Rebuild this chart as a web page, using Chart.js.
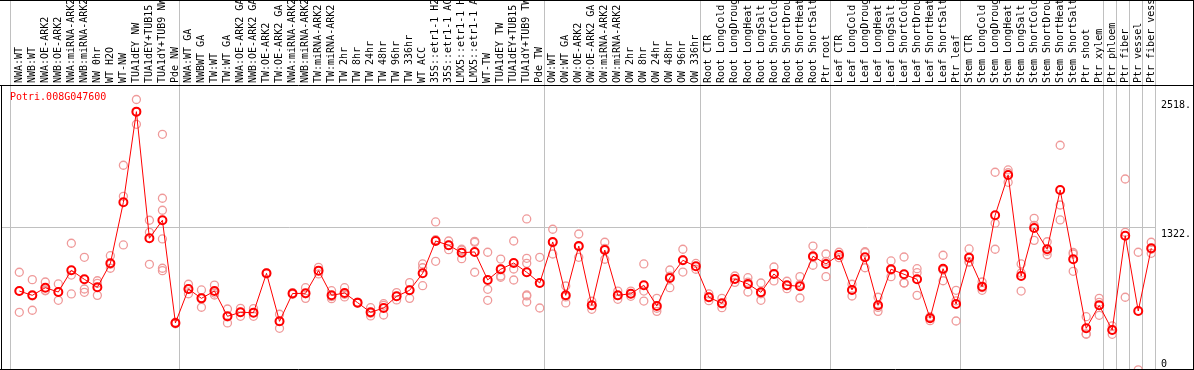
<!DOCTYPE html>
<html>
<head>
<meta charset="utf-8">
<script src="https://cdn.jsdelivr.net/npm/chart.js@4.4.1/dist/chart.umd.min.js"></script>
<style>
  html, body { margin: 0; padding: 0; background: #fff; }
  #wrap { width: 1194px; height: 370px; }
</style>
</head>
<body>
<div id="wrap"><canvas id="exprChart" width="1194" height="370"></canvas></div>
<script>
const geneName = 'Potri.008G047600';

const categories = [
    'NWA:WT', 'NWB:WT', 'NWA:OE-ARK2', 'NWB:OE-ARK2', 'NWA:miRNA-ARK2', 'NWB:miRNA-ARK2',
    'NW 0hr', 'WT H2O', 'WT-NW', 'TUA1dEY NW', 'TUA1dEY+TUB15', 'TUA1dY+TUB9 NW', 'Pde NW',
    'NWA:WT GA', 'NWBWT GA', 'TW:WT', 'TW:WT GA', 'NWA:OE-ARK2 GA', 'NWB:OE-ARK2 GA',
    'TW:OE-ARK2', 'TW:OE-ARK2 GA', 'NWA:miRNA-ARK2', 'NWB:miRNA-ARK2', 'TW:miRNA-ARK2',
    'TW:miRNA-ARK2', 'TW 2hr', 'TW 8hr', 'TW 24hr', 'TW 48hr', 'TW 96hr', 'TW 336hr', 'WT ACC',
    '35S::etr1-1 H2O', '35S::etr1-1 ACC', 'LMX5::etr1-1 H2O', 'LMX5::etr1-1 ACC', 'WT-TW',
    'TUA1dEY TW', 'TUA1dEY+TUB15', 'TUA1dY+TUB9 TW', 'Pde TW',
    'OW:WT', 'OW:WT GA', 'OW:OE-ARK2', 'OW:OE-ARK2 GA', 'OW:miRNA-ARK2', 'OW:miRNA-ARK2',
    'OW 2hr', 'OW 8hr', 'OW 24hr', 'OW 48hr', 'OW 96hr', 'OW 336hr',
    'Root CTR', 'Root LongCold', 'Root LongDrought', 'Root LongHeat', 'Root LongSalt',
    'Root ShortCold', 'Root ShortDrought', 'Root ShortHeat', 'Root ShortSalt', 'Ptr root',
    'Leaf CTR', 'Leaf LongCold', 'Leaf LongDrought', 'Leaf LongHeat', 'Leaf LongSalt',
    'Leaf ShortCold', 'Leaf ShortDrought', 'Leaf ShortHeat', 'Leaf ShortSalt', 'Ptr leaf',
    'Stem CTR', 'Stem LongCold', 'Stem LongDrought', 'Stem LongHeat', 'Stem LongSalt',
    'Stem ShortCold', 'Stem ShortDrought', 'Stem ShortHeat', 'Stem ShortSalt', 'Ptr shoot',
    'Ptr xylem', 'Ptr phloem', 'Ptr fiber', 'Ptr vessel', 'Ptr fiber vessel'
];

// index of the first sample of each group (last entry closes the final group)
const groupStarts = [0, 13, 41, 53, 63, 73, 84, 85, 86, 87, 88];

const meanValues = [
    735, 695, 766, 726, 928, 844, 770, 993, 1561, 2405, 1226, 1394, 438,
    754, 667, 735, 500, 537, 534, 900, 453, 712, 714, 925, 695, 717, 627, 537, 577, 686,
    742, 900, 1201, 1161, 1092, 1099, 838, 938, 996, 910, 810,
    1192, 695, 1154, 602, 1117, 695, 710, 789, 596, 857, 1021, 965,
    677, 621, 847, 801, 723, 894, 789, 779, 1059, 987,
    1071, 745, 1049, 602, 938, 891, 844, 481, 943, 614,
    1046, 776, 1440, 1815, 875, 1322, 1124, 1676, 1031, 388, 602,
    372, 1250, 549, 1133
];

const replicateValues = [
    [910, 735, 537], [841, 690, 556], [819, 742, 737], [801, 726, 649],
    [1180, 884, 708], [1049, 754, 723], [831, 807, 695], [1064, 947, 984],
    [1906, 1617, 1164], [2518, 2287, 2400], [1394, 1282, 984],
    [2194, 1599, 1487, 1220, 947, 925], [445, 438, 430],
    [798, 754, 710], [745, 672, 584], [791, 716, 698], [568, 494, 438],
    [574, 537, 500], [571, 534, 500], [905, 895], [519, 452, 388],
    [720, 705], [766, 710, 667], [956, 925, 894], [738, 683, 664],
    [766, 705, 680], [632, 622], [580, 528, 503], [617, 602, 512],
    [720, 686, 652], [813, 746, 667], [987, 952, 785], [1378, 1213, 1012],
    [1201, 1162, 1120], [1124, 1116, 1036], [1189, 1198, 910], [1096, 751, 649],
    [1033, 940, 875, 863], [1201, 940, 838], [1406, 1040, 993, 698, 633, 690],
    [1049, 810, 577],
    [1310, 1186, 1080], [782, 680, 624], [1266, 1147, 1049], [640, 602, 565],
    [1189, 1131, 1031], [735, 692, 658], [735, 710, 686], [987, 735, 642],
    [667, 575, 546], [931, 874, 766], [1124, 1027, 912], [992, 938],
    [708, 677, 645], [667, 615, 580], [875, 850, 816], [859, 818, 726],
    [810, 710, 649], [959, 894, 829], [826, 785, 757], [869, 798, 670],
    [1154, 1048, 975], [1080, 1012, 869],
    [1096, 1071, 1046], [798, 748, 689], [1101, 1094, 952], [677, 583, 546],
    [1015, 930, 869], [1052, 810, 811], [943, 906, 695], [496, 488, 459],
    [1068, 930, 831], [742, 644, 456],
    [1127, 1008, 1003], [819, 767, 742], [1841, 1366, 1124], [1862, 1836, 1747],
    [987, 903, 735], [1412, 1347, 1207], [1194, 1105, 1073], [2092, 1536, 1397],
    [1080, 1094, 919], [496, 336, 332], [667, 630, 509],
    [410, 374, 332], [1778, 1282, 677], [1096, 2], [1189, 1124, 1086]
];

const yTickValues = [0, 1322, 2518];
const yMax = 2653;

// points sit a little right of the middle of each sample slot
const SLOT_SHIFT = 0.66;

function isBoundaryTick(tick) {
    return tick && !Number.isInteger(tick.value);
}

function noScalePadding(scale) {
    scale.paddingLeft = 0;
    scale.paddingRight = 0;
    scale.paddingTop = 0;
    scale.paddingBottom = 0;
}

const monoFont = { family: 'DejaVu Sans Mono', size: 10 };

const framePlugin = {
    id: 'frame',
    afterDraw(chart) {
        const c = chart.ctx;
        const area = chart.chartArea;
        const w = chart.width;
        c.save();
        c.strokeStyle = '#000';
        c.lineWidth = 1;
        c.beginPath();
        c.moveTo(0, 0.5); c.lineTo(w, 0.5);
        c.moveTo(0, area.top + 0.5); c.lineTo(w, area.top + 0.5);
        c.moveTo(0, area.bottom - 0.5); c.lineTo(w, area.bottom - 0.5);
        c.moveTo(1.5, area.top); c.lineTo(1.5, area.bottom);
        c.moveTo(w - 0.5, 0); c.lineTo(w - 0.5, area.bottom);
        c.stroke();

        c.fillStyle = '#ff0000';
        c.font = '10px "DejaVu Sans Mono"';
        c.textBaseline = 'middle';
        c.fillText(geneName, 10, area.top + 12);
        c.restore();
    }
};

const replicatePoints = [];
replicateValues.forEach((reps, i) => {
    reps.forEach(v => replicatePoints.push({ x: i, y: v }));
});

const ctx = document.getElementById('exprChart').getContext('2d');
new Chart(ctx, {
    type: 'line',
    data: {
        datasets: [{
            label: 'mean',
            data: meanValues.map((v, i) => ({ x: i, y: v })),
            borderColor: '#ff0000',
            borderWidth: 1,
            pointRadius: 4,
            pointBorderWidth: 2,
            pointBorderColor: '#ff0000',
            pointBackgroundColor: 'rgba(0,0,0,0)',
            tension: 0,
            order: 1
        }, {
            label: 'replicates',
            data: replicatePoints,
            showLine: false,
            pointRadius: 4,
            pointBorderWidth: 1.3,
            pointBorderColor: '#ef9a9a',
            pointBackgroundColor: 'rgba(0,0,0,0)',
            order: 2
        }]
    },
    options: {
        responsive: false,
        animation: false,
        layout: { autoPadding: false, padding: { left: 1, right: 0, top: 0, bottom: 0 } },
        plugins: {
            legend: { display: false },
            tooltip: { enabled: false }
        },
        scales: {
            x: {
                type: 'linear',
                position: 'top',
                min: -1.4065,
                max: 87.365,
                afterBuildTicks: (scale) => {
                    const ticks = categories.map((c, i) => ({ value: i }));
                    groupStarts.forEach(k => ticks.push({ value: k - SLOT_SHIFT }));
                    ticks.sort((a, b) => a.value - b.value);
                    scale.ticks = ticks;
                },
                afterFit: (scale) => {
                    scale.height = 85;
                    noScalePadding(scale);
                },
                grid: {
                    color: (c) => isBoundaryTick(c.tick) ? '#c0c0c0' : 'rgba(0,0,0,0)',
                    tickLength: 85,
                    lineWidth: 1
                },
                border: { display: false },
                ticks: {
                    autoSkip: false,
                    minRotation: 90,
                    maxRotation: 90,
                    padding: -83,
                    labelOffset: 12,
                    font: monoFont,
                    color: '#000',
                    callback: (v) => Number.isInteger(v) ? categories[v] : ''
                }
            },
            y: {
                position: 'right',
                min: 0,
                max: yMax,
                afterBuildTicks: (scale) => {
                    scale.ticks = yTickValues.map(v => ({ value: v }));
                },
                afterFit: (scale) => {
                    scale.width = 38;
                    noScalePadding(scale);
                },
                grid: {
                    color: (c) => c.tick && c.tick.value === 1322 ? '#c0c0c0' : 'rgba(0,0,0,0)',
                    drawTicks: false
                },
                border: { display: false },
                ticks: {
                    padding: 5,
                    font: monoFont,
                    color: '#000',
                    callback: (v) => v === 0 ? ['0', ''] : ['', v + '.']
                }
            }
        }
    },
    plugins: [framePlugin]
});
</script>
</body>
</html>
